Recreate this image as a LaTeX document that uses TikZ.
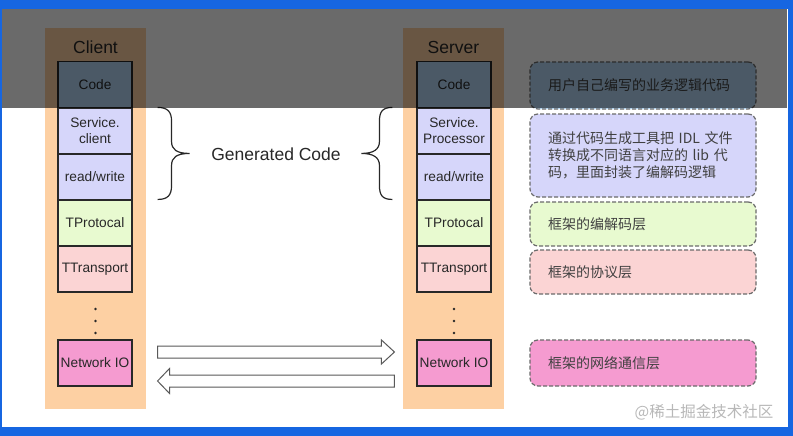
\documentclass[tikz,border=0pt]{standalone}
\usepackage{fontspec}
\setmainfont{Liberation Sans}
\newfontfamily\cjk{Noto Sans CJK SC}
\definecolor{frameblue}{RGB}{22,102,225}
\definecolor{colbg}{RGB}{253,208,163}
\definecolor{codebg}{RGB}{182,216,246}
\definecolor{genbg}{RGB}{214,214,250}
\definecolor{protbg}{RGB}{232,250,208}
\definecolor{transbg}{RGB}{251,212,212}
\definecolor{niobg}{RGB}{245,155,208}
\definecolor{inkc}{RGB}{40,40,40}
\begin{document}
\begin{tikzpicture}[x=1pt,y=-1pt,
  col/.style={fill=colbg, draw=none, minimum width=101pt, minimum height=381pt, inner sep=0pt},
  coltitle/.style={font=\fontsize{17.5}{20}\selectfont, text=inkc, inner sep=0pt},
  layer/.style={draw=inkc, line width=1.1pt, minimum width=74pt, minimum height=46pt, inner sep=0pt,
    align=center, font=\fontsize{13.7}{16}\selectfont, text=inkc},
  note/.style={draw=black!58, dash pattern=on 4pt off 2pt, rounded corners=8pt, line width=1.2pt,
    minimum width=226pt, inner sep=0pt, text width=190pt, align=left,
    font=\cjk\fontsize{14}{17.3}\selectfont, text=black!75},
  bracestyle/.style={draw=inkc, line width=1.2pt},
  blk/.style={draw=black!65, fill=white, line width=1pt, line join=miter},
  dotst/.style={fill=inkc, draw=none}
]
% frame
\fill[frameblue] (0,0) rectangle (793,436);
\fill[white] (2,9) rectangle (788,427);
\useasboundingbox (0,0) rectangle (793,436);

% columns
\node[col] (ccol) at (95.5,218.5) {};
\node[col] (scol) at (453.5,218.5) {};
\node[coltitle] (ctitle) at (95.5,47) {Client};
\node[coltitle] (stitle) at (453.5,47) {Server};

% client layers
\node[layer, fill=codebg] (ccode) at (95,84.5) {Code};
\node[layer, fill=genbg] (csvc) at (95,131) {Service.\\client};
\node[layer, fill=genbg] (crw) at (95,177) {read/write};
\node[layer, fill=protbg] (cprot) at (95,223) {TProtocal};
\node[layer, fill=transbg] (ctrans) at (95,269) {TTransport};
\node[layer, fill=niobg] (cnio) at (95,363) {Network IO};

% server layers
\node[layer, fill=codebg] (scode) at (454,84.5) {Code};
\node[layer, fill=genbg] (ssvc) at (454,131) {Service.\\Processor};
\node[layer, fill=genbg] (srw) at (454,177) {read/write};
\node[layer, fill=protbg] (sprot) at (454,223) {TProtocal};
\node[layer, fill=transbg] (strans) at (454,269) {TTransport};
\node[layer, fill=niobg] (snio) at (454,363) {Network IO};

% dots
\foreach \yy in {309,321,333} {
  \fill[dotst] (95.5,\yy) circle (1.3pt);
  \fill[dotst] (454,\yy) circle (1.3pt);
}

% braces
\coordinate (lb) at ([xshift=25pt]csvc.north east);
\coordinate (rb) at ([xshift=-24pt]ssvc.north west);
\begin{scope}[shift={(lb)}]
  \draw[bracestyle] (0,0) .. controls (10,0) and (14,4) .. (14,14) -- (14,34)
    .. controls (14,42) and (19,46) .. (32,46)
    .. controls (19,46) and (14,50) .. (14,58) -- (14,78)
    .. controls (14,88) and (10,92) .. (0,92);
\end{scope}
\begin{scope}[shift={(rb)}, xscale=-1]
  \draw[bracestyle] (0,0) .. controls (10,0) and (13,4) .. (13,14) -- (13,34)
    .. controls (13,42) and (19,46) .. (31,46)
    .. controls (19,46) and (13,50) .. (13,58) -- (13,78)
    .. controls (13,88) and (10,92) .. (0,92);
\end{scope}
\node[font=\fontsize{17.5}{20}\selectfont, text=inkc, inner sep=0pt] (gen) at (276,154) {Generated Code};

% block arrows
\coordinate (r0) at ([xshift=25pt,yshift=11pt]cnio.east);
\coordinate (r1) at ([xshift=-22pt,yshift=11pt]snio.west);
\draw[blk] ([yshift=6pt]r0) -- ([xshift=-13pt,yshift=6pt]r1) -- ([xshift=-13pt,yshift=12pt]r1)
  -- (r1) -- ([xshift=-13pt,yshift=-12pt]r1) -- ([xshift=-13pt,yshift=-6pt]r1)
  -- ([yshift=-6pt]r0) -- cycle;
\coordinate (l0) at ([xshift=-22pt,yshift=-18pt]snio.west);
\coordinate (l1) at ([xshift=25pt,yshift=-18pt]cnio.east);
\draw[blk] ([yshift=6pt]l0) -- ([xshift=12pt,yshift=6pt]l1) -- ([xshift=12pt,yshift=12.5pt]l1)
  -- (l1) -- ([xshift=12pt,yshift=-12.5pt]l1) -- ([xshift=12pt,yshift=-6pt]l1)
  -- ([yshift=-6pt]l0) -- cycle;

% notes
\node[note, fill=codebg, minimum height=47pt] (n1) at (643,85.5) {用户自己编写的业务逻辑代码};
\node[note, fill=genbg, minimum height=83pt] (n2) at (643,155.5) {通过代码生成工具把 IDL 文件\\转换成不同语言对应的 lib 代\\码，里面封装了编解码逻辑};
\node[note, fill=protbg, minimum height=44pt] (n3) at (643,224) {框架的编解码层};
\node[note, fill=transbg, minimum height=44pt] (n4) at (643,272) {框架的协议层};
\node[note, fill=niobg, minimum height=46pt] (n5) at (643,363) {框架的网络通信层};

% watermark
\node[font=\cjk\fontsize{15.5}{18}\selectfont, text=black!28, inner sep=0pt] (wm) at (704,412) {@稀土掘金技术社区};

% dark overlay band
\fill[black, opacity=0.585] (2,9) rectangle (787,108);
\end{tikzpicture}
\end{document}
